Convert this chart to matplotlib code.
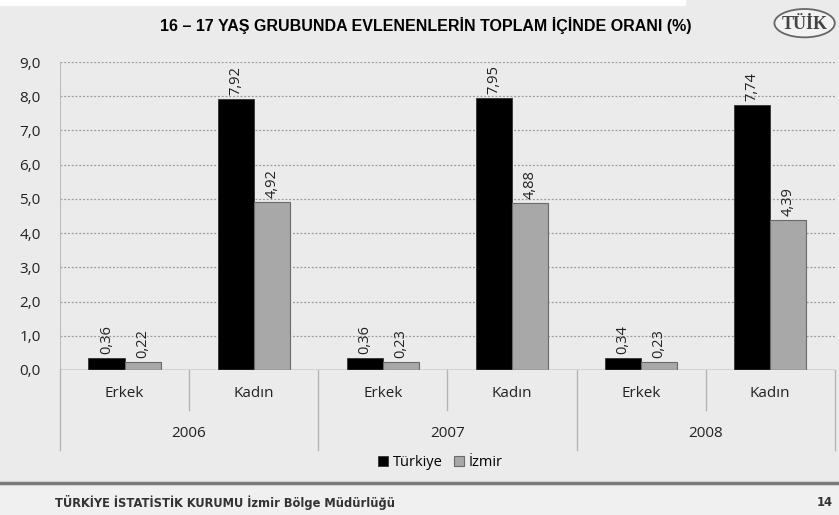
import numpy as np
import matplotlib.pyplot as plt
from matplotlib.patches import Ellipse
from matplotlib.lines import Line2D

years = ["2006", "2007", "2008"]
sexes = ["Erkek", "Kadın"]
turkiye = [0.36, 7.92, 0.36, 7.95, 0.34, 7.74]
izmir = [0.22, 4.92, 0.23, 4.88, 0.23, 4.39]
yticks = [0, 1, 2, 3, 4, 5, 6, 7, 8, 9]

bg = "#ebebeb"
fig = plt.figure(figsize=(8.39, 5.15), dpi=100, facecolor=bg)
ax = fig.add_axes([0.0715, 0.2816, 0.9235, 0.598])
ax.set_facecolor(bg)

x = np.arange(len(turkiye)) + 0.5
w = 0.28
b1 = ax.bar(x - w / 2, turkiye, w, color="black", edgecolor="#333333", lw=0.6, label="Türkiye", zorder=3)
b2 = ax.bar(x + w / 2, izmir, w, color="#a8a8a8", edgecolor="#6a6a6a", lw=0.8, label="İzmir", zorder=3)

# değer etiketleri
for bars, vals in ((b1, turkiye), (b2, izmir)):
    for b, v in zip(bars, vals):
        ax.text(b.get_x() + b.get_width() / 2, v + 0.12, f"{v:.2f}".replace(".", ","),
                rotation=90, ha="center", va="bottom", fontsize=10.5, family="Open Sans", color="#222222")

ax.set_xlim(0, 6)
ax.set_ylim(0, 9)
ax.set_yticks(yticks)
ax.set_yticklabels([f"{t:.1f}".replace(".", ",") for t in yticks], fontsize=11,
                   family="Open Sans", color="#222222")
ax.set_xticks([])
ax.tick_params(axis="y", length=0, pad=14)
ax.grid(axis="y", color="#9a9a9a", ls=(0, (1.5, 1.5)), lw=0.9, zorder=0)
for s in ["top", "right", "bottom"]:
    ax.spines[s].set_visible(False)
ax.spines["left"].set_color("#bdbdbd")
ax.axhline(0, color="#8a8a8a", lw=1.0, zorder=4)

# çok seviyeli x ekseni
for i, c in enumerate(x):
    ax.text(c, -0.075, sexes[i % 2], transform=ax.get_xaxis_transform(), ha="center", va="center",
            fontsize=11, family="Open Sans", color="#222222")
for j, yr in enumerate(years):
    ax.text(2 * j + 1, -0.205, yr, transform=ax.get_xaxis_transform(), ha="center", va="center",
            fontsize=11, family="Open Sans", color="#222222")
for xs in [1, 3, 5]:
    ax.add_line(Line2D([xs, xs], [0, -0.13], transform=ax.get_xaxis_transform(),
                       color="#b5b5b5", lw=1, clip_on=False))
for xs in [0, 2, 4, 6]:
    ax.add_line(Line2D([xs, xs], [0, -0.26], transform=ax.get_xaxis_transform(),
                       color="#b5b5b5", lw=1, clip_on=False))

leg = fig.legend(handles=[b1, b2], loc="center", bbox_to_anchor=(0.525, 0.101), ncol=2,
                 frameon=False, handlelength=0.7, handleheight=0.7,
                 handletextpad=0.3, columnspacing=0.8, prop={"family": "Open Sans", "size": 10.5})

# başlık ve logo
fig.patches.append(plt.Rectangle((0, 0.99), 0.816, 0.01, transform=fig.transFigure, color="white", zorder=0))
fig.text(0.508, 0.951, "16 – 17 YAŞ GRUBUNDA EVLENENLERİN TOPLAM İÇİNDE ORANI (%)",
         ha="center", va="center", fontsize=11.5, fontweight="bold", family="Liberation Sans")
fig.patches.append(Ellipse((0.959, 0.955), 0.072, 0.055, transform=fig.transFigure,
                           facecolor="#f2f2f2", edgecolor="#666666", lw=1.3))
fig.text(0.959, 0.953, "TÜİK", ha="center", va="center", fontsize=13, family="Liberation Serif",
         color="#444444", fontweight="bold")

# alt bilgi
fig.add_artist(Line2D([0.0, 1.0], [0.062, 0.062], transform=fig.transFigure, color="#7a7a7a", lw=2.5))
fig.patches.append(plt.Rectangle((0, 0), 1, 0.057, transform=fig.transFigure, color="#f0f0f0", zorder=0))
fig.text(0.066, 0.024, "TÜRKİYE İSTATİSTİK KURUMU İzmir Bölge Müdürlüğü", ha="left", va="center",
         fontsize=8.3, fontweight="bold", family="DejaVu Sans", color="#333333")
fig.text(0.993, 0.024, "14", ha="right", va="center", fontsize=8.3, fontweight="bold",
         family="DejaVu Sans", color="#333333")

fig.savefig("out.png", dpi=100, facecolor=bg)
